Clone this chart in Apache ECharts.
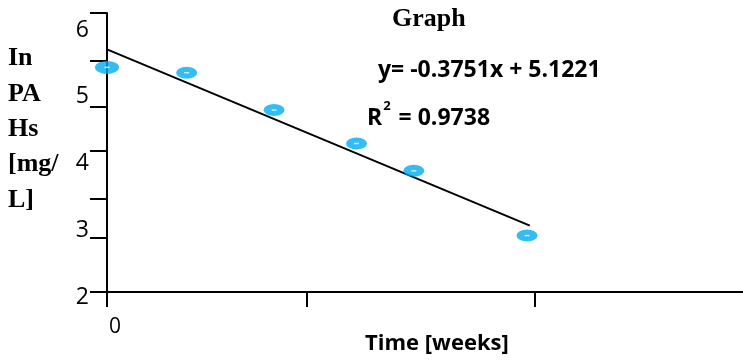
<!DOCTYPE html>
<html>
<head>
<meta charset="utf-8">
<script src="https://cdn.jsdelivr.net/npm/echarts@6/dist/echarts.min.js"></script>
<style>
html, body { margin: 0; padding: 0; background: #fff; }
#chart { width: 743px; height: 360px; }
</style>
</head>
<body>
<div id="chart"></div>
<script>
// measured points (weeks, ln PAHs)
var weeks = [0, 1.14, 2.39, 3.57, 4.39, 6.01];
var lnPahs = [5.44, 5.36, 4.80, 4.30, 3.89, 2.92];
var markerSizes = [[24, 13], [21, 12], [21, 12], [21, 12], [21, 12], [21, 12]];

// linear trend line ends as drawn
var trendX = [0, 6.05];
var trendY = [5.71, 3.07];

// axis ticks as drawn
var xTickValues = [0, 2.86, 6.12];
var xLabelValues = [0];
var yTickValues = [2.075, 2.888, 3.479, 4.187, 4.85, 5.536, 6.255];
var yLabels = [2, 3, 4, 5, 6];

var eqText = 'y= -0.3751x + 5.1221';
var r2Value = '0.9738';

var points = [];
for (var i = 0; i < weeks.length; i++) {
    points.push({ value: [weeks[i], lnPahs[i]], symbolSize: markerSizes[i] });
}
var dashes = [];
for (var j = 0; j < weeks.length; j++) {
    dashes.push([weeks[j], lnPahs[j]]);
}
var trend = [];
for (var k = 0; k < trendX.length; k++) {
    trend.push([trendX[k], trendY[k]]);
}

var myChart = echarts.init(document.getElementById('chart'));

var option = {
    animation: false,
    backgroundColor: '#fff',
    grid: [
        { left: 107, right: 0, top: 13, bottom: 68 },
        { left: 107, right: 0, top: 30, bottom: 63 }
    ],
    xAxis: [{
        gridIndex: 0, type: 'value', min: 0, max: 9.1,
        axisLine: { show: true, lineStyle: { color: '#000', width: 2 } },
        axisTick: { show: true, customValues: xTickValues, length: 15, lineStyle: { color: '#000', width: 2 } },
        axisLabel: { customValues: xLabelValues, color: '#000', fontSize: 21, fontFamily: 'Open Sans', margin: 25, align: 'left', padding: [0, 0, 0, 2] },
        splitLine: { show: false }
    }, {
        gridIndex: 1, type: 'value', min: 0, max: 9.1, show: false
    }],
    yAxis: [{
        gridIndex: 0, type: 'value', min: yTickValues[0], max: yTickValues[yTickValues.length - 1],
        axisLine: { show: true, lineStyle: { color: '#000', width: 2 } },
        axisTick: { show: true, customValues: yTickValues, length: 17, lineStyle: { color: '#000', width: 2 } },
        axisLabel: { show: false },
        splitLine: { show: false }
    }, {
        gridIndex: 1, type: 'value', min: yLabels[0], max: yLabels[yLabels.length - 1], interval: 1,
        axisLine: { show: false },
        axisTick: { show: false },
        axisLabel: { color: '#000', fontSize: 23, fontFamily: 'Open Sans', margin: 18, padding: [4, 0, 0, 0] },
        splitLine: { show: false }
    }],
    series: [{
        type: 'line',
        xAxisIndex: 1, yAxisIndex: 1,
        data: trend,
        showSymbol: false,
        lineStyle: { color: '#000', width: 2 },
        z: 2
    }, {
        type: 'scatter',
        xAxisIndex: 1, yAxisIndex: 1,
        data: points,
        symbol: 'circle',
        itemStyle: { color: '#00adef' },
        z: 3
    }, {
        type: 'scatter',
        xAxisIndex: 1, yAxisIndex: 1,
        data: dashes,
        symbol: 'rect',
        symbolSize: [5, 1.5],
        itemStyle: { color: '#e8f8ff' },
        z: 4
    }],
    graphic: [{
        type: 'text', x: 8, y: 41,
        style: { text: 'In\nPA\nHs\n[mg/\nL]', font: 'bold 26px "Liberation Serif"', fill: '#000', lineHeight: 35.3, align: 'left', verticalAlign: 'top' }
    }, {
        type: 'text', x: 392, y: 19,
        style: { text: 'Graph', font: 'bold 26px "Liberation Serif"', fill: '#000', align: 'left', verticalAlign: 'middle' }
    }, {
        type: 'text', x: 378, y: 70,
        style: { text: eqText, font: 'bold 23px "Open Sans"', fill: '#000', align: 'left', verticalAlign: 'middle' }
    }, {
        type: 'text', x: 367, y: 115,
        style: {
            text: '{a|R}{s|2}{a| = ' + r2Value + '}',
            align: 'left', verticalAlign: 'middle',
            rich: {
                a: { font: 'bold 23px "Open Sans"', fill: '#000', verticalAlign: 'bottom' },
                s: { font: 'bold 13px "Open Sans"', fill: '#000', verticalAlign: 'top', padding: [0, 2, 17, 1] }
            }
        }
    }, {
        type: 'text', x: 365, y: 344,
        style: { text: 'Time [weeks]', font: 'bold 22px "Open Sans"', fill: '#000', align: 'left', verticalAlign: 'middle' }
    }]
};

myChart.setOption(option);
</script>
</body>
</html>
